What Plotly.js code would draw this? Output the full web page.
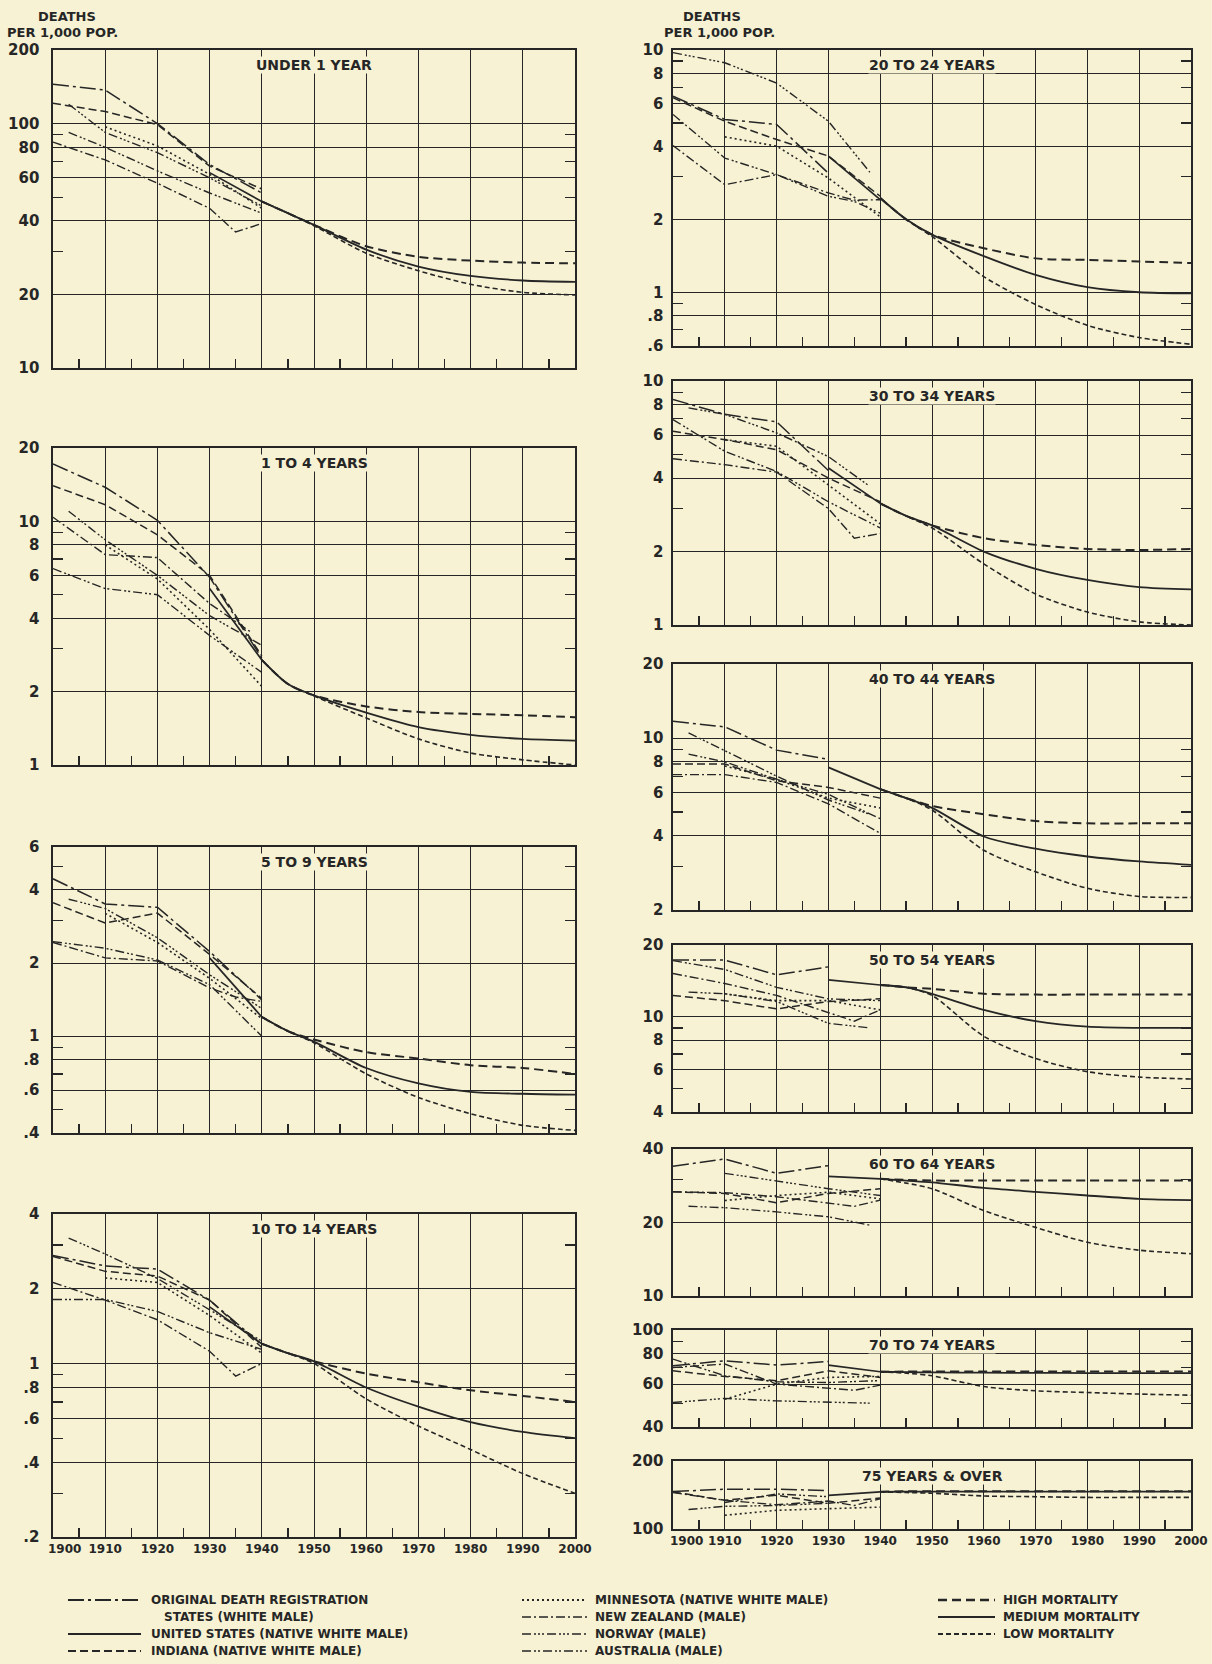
<!DOCTYPE html>
<html><head><meta charset="utf-8">
<script src="https://cdn.plot.ly/plotly-3.0.1.min.js"></script>
<style>html,body{margin:0;padding:0;background:#f7f2d3;} #chart{width:1212px;height:1664px;}</style>
</head><body><div id="chart"></div>
<script>
// ---------------- DATA ----------------
const HIST_YEARS = [1900, 1903, 1910, 1920, 1930, 1935, 1938, 1940];
const PROJ_YEARS = [1940, 1945, 1950, 1960, 1970, 1980, 1990, 2000];
const _ = null;

const SERIES_NAMES = ['ORIGINAL DEATH REGISTRATION STATES (WHITE MALE)', 'UNITED STATES (NATIVE WHITE MALE)',
  'INDIANA (NATIVE WHITE MALE)', 'MINNESOTA (NATIVE WHITE MALE)', 'NEW ZEALAND (MALE)', 'NORWAY (MALE)', 'AUSTRALIA (MALE)'];
const PROJ_NAMES = ['HIGH MORTALITY', 'MEDIUM MORTALITY', 'LOW MORTALITY'];

// Under 1 year
const u1_odrs = [145, _, 137, 100, 68, _, _, 52];
const u1_us   = [_, _, _, _, 63, _, _, 48];
const u1_ind  = [121, _, 112, 99, 67, _, _, 54];
const u1_min  = [_, _, 97, 81, 62, _, _, 45];
const u1_nz   = [84, _, 71, 57, 45, 36, _, 39];
const u1_nor  = [_, 120, 92, 76, 60, _, _, 46];
const u1_aus  = [_, 92, 80, 64, 52, _, _, 43];
const u1_high = [48, 43, 38.5, 31.5, 28.5, 27.5, 27, 26.8];
const u1_med  = [48, 43, 38.5, 30.5, 26, 23.8, 22.8, 22.5];
const u1_low  = [48, 43, 38.2, 29.5, 25, 22, 20.4, 19.9];
// 1 to 4 years
const a1_odrs = [17.2, _, 13.8, 10.1, 5.9, _, _, 2.75];
const a1_us   = [_, _, _, _, 5.3, _, _, 2.7];
const a1_ind  = [14.0, _, 11.7, 8.8, 6.0, 4.1, _, 2.8];
const a1_min  = [_, _, 8.0, 5.8, 3.6, _, _, 2.1];
const a1_nz   = [10.4, _, 7.3, 7.1, 4.6, _, 3.5, _];
const a1_nor  = [_, 11.0, 8.4, 6.0, 4.1, _, _, 3.1];
const a1_aus  = [6.4, _, 5.3, 5.0, 3.4, _, _, 2.4];
const a1_high = [2.7, 2.15, 1.93, 1.74, 1.65, 1.62, 1.6, 1.57];
const a1_med  = [2.7, 2.15, 1.93, 1.64, 1.43, 1.33, 1.28, 1.26];
const a1_low  = [2.7, 2.15, 1.92, 1.56, 1.28, 1.12, 1.05, 1.0];
// 5 to 9 years
const a5_odrs = [4.44, _, 3.5, 3.39, 2.23, _, _, 1.41];
const a5_us   = [_, _, _, _, 2.1, _, _, 1.2];
const a5_ind  = [3.54, _, 2.92, 3.21, 2.17, _, _, 1.43];
const a5_min  = [_, _, 3.2, 2.43, 1.73, _, _, 1.18];
const a5_nz   = [2.43, _, 2.1, 2.04, 1.58, 1.45, _, 1.39];
const a5_nor  = [_, 3.66, 3.35, 2.54, 1.79, _, _, 1.3];
const a5_aus  = [2.45, _, 2.3, 2.06, 1.63, _, _, 1.0];
const a5_high = [1.2, 1.05, 0.97, 0.86, 0.81, 0.76, 0.74, 0.70];
const a5_med  = [1.2, 1.05, 0.95, 0.74, 0.64, 0.59, 0.58, 0.575];
const a5_low  = [1.2, 1.05, 0.94, 0.70, 0.56, 0.48, 0.43, 0.41];
// 10 to 14 years
const a10_odrs = [2.72, _, 2.47, 2.4, 1.8, _, _, 1.19];
const a10_us   = [_, _, _, _, 1.69, _, _, 1.2];
const a10_ind  = [2.70, _, 2.35, 2.25, 1.8, _, _, 1.16];
const a10_min  = [_, _, 2.21, 2.12, 1.56, _, _, 1.1];
const a10_nz   = [2.12, _, 1.8, 1.5, 1.12, 0.89, _, 1.0];
const a10_nor  = [_, 3.2, 2.76, 2.2, 1.64, _, _, 1.23];
const a10_aus  = [1.81, _, 1.81, 1.62, 1.33, _, _, 1.14];
const a10_high = [1.2, 1.1, 1.02, 0.91, 0.84, 0.78, 0.74, 0.70];
const a10_med  = [1.2, 1.1, 1.02, 0.80, 0.67, 0.58, 0.53, 0.50];
const a10_low  = [1.2, 1.1, 1.0, 0.72, 0.56, 0.45, 0.36, 0.30];
// 20 to 24 years
const a20_odrs = [6.45, _, 5.17, 4.93, 3.1, _, _, _];
const a20_us   = [_, _, _, _, 3.65, _, _, 2.41];
const a20_ind  = [6.35, _, 5.08, 4.27, 3.65, _, _, 2.49];
const a20_min  = [_, _, 4.38, 4.01, 2.96, _, _, 2.05];
const a20_nz   = [4.03, _, 2.78, 3.06, 2.57, 2.4, _, 2.41];
const a20_nor  = [9.75, _, 8.86, 7.3, 5.08, _, 3.13, _];
const a20_aus  = [5.42, _, 3.58, 3.06, 2.49, 2.37, _, 2.12];
const a20_high = [2.45, 2.0, 1.73, 1.52, 1.38, 1.36, 1.34, 1.32];
const a20_med  = [2.45, 2.0, 1.73, 1.41, 1.18, 1.05, 1.0, 0.99];
const a20_low  = [2.45, 2.0, 1.70, 1.16, 0.89, 0.73, 0.65, 0.61];
// 30 to 34 years
const a30_odrs = [8.4, _, 7.3, 6.8, 4.3, _, _, _];
const a30_us   = [_, _, _, _, 4.4, _, _, 3.15];
const a30_ind  = [6.22, _, 5.75, 5.23, 4.0, _, _, 3.2];
const a30_min  = [_, _, 5.75, 5.4, 3.75, _, _, 2.6];
const a30_nz   = [4.8, _, 4.54, 4.23, 3.0, 2.27, _, 2.37];
const a30_nor  = [_, 7.76, 7.3, 6.13, 4.9, _, 3.7, _];
const a30_aus  = [6.95, _, 5.15, 4.26, 3.2, _, _, 2.5];
const a30_high = [3.15, 2.8, 2.56, 2.27, 2.13, 2.05, 2.03, 2.05];
const a30_med  = [3.15, 2.8, 2.56, 2.0, 1.7, 1.53, 1.43, 1.4];
const a30_low  = [3.15, 2.8, 2.5, 1.78, 1.34, 1.13, 1.03, 1.0];
// 40 to 44 years
const a40_odrs = [11.7, _, 11.1, 8.93, 8.2, _, _, _];
const a40_us   = [_, _, _, _, 7.6, _, _, 6.2];
const a40_ind  = [7.85, _, 7.85, 6.7, 6.3, _, _, 5.7];
const a40_min  = [_, _, 7.7, 6.8, 5.7, _, _, 5.2];
const a40_nz   = [7.1, _, 7.1, 6.6, 5.4, _, _, 4.1];
const a40_nor  = [_, 10.5, 8.9, 7.0, 5.6, _, 4.9, _];
const a40_aus  = [_, 8.6, 8.0, 6.8, 5.9, _, _, 4.7];
const a40_high = [6.2, 5.7, 5.3, 4.9, 4.6, 4.5, 4.5, 4.5];
const a40_med  = [6.2, 5.7, 5.2, 3.98, 3.55, 3.3, 3.15, 3.05];
const a40_low  = [6.2, 5.7, 5.1, 3.5, 2.86, 2.45, 2.27, 2.25];
// 50 to 54 years
const a50_odrs = [17.3, _, 17.3, 15.0, 16.2, _, _, _];
const a50_us   = [_, _, _, _, 14.3, _, _, 13.6];
const a50_ind  = [12.3, _, 11.7, 10.8, 11.6, _, _, 11.9];
const a50_min  = [_, _, 12.5, 11.7, 11.7, _, _, 10.7];
const a50_nz   = [15.2, _, 13.8, 12.3, 10.4, 9.6, _, 10.7];
const a50_nor  = [_, 12.7, 12.5, 11.6, 9.4, _, 9.0, _];
const a50_aus  = [17.2, _, 15.8, 13.3, 11.9, _, _, 11.7];
const a50_high = [13.6, 13.3, 13.1, 12.5, 12.4, 12.4, 12.4, 12.4];
const a50_med  = [13.6, 13.3, 12.5, 10.7, 9.6, 9.1, 9.0, 9.0];
const a50_low  = [13.6, 13.3, 12.3, 8.3, 6.7, 5.9, 5.6, 5.5];
// 60 to 64 years
const a60_odrs = [34.0, _, 36.4, 31.8, 34.2, _, _, _];
const a60_us   = [_, _, _, _, 30.9, _, _, 30.2];
const a60_ind  = [26.7, _, 26.3, 24.1, 26.3, _, _, 27.5];
const a60_min  = [_, _, 24.6, 25.8, 26.6, _, _, 25.0];
const a60_nz   = [26.7, _, 26.5, 25.5, 24.1, 23.3, _, 24.7];
const a60_nor  = [_, _, 31.8, 29.5, 27.5, _, _, 25.8];
const a60_aus  = [_, 23.3, 23.0, 22.1, 21.1, _, 19.5, _];
const a60_high = [30.2, 29.9, 29.7, 29.7, 29.7, 29.7, 29.7, 29.7];
const a60_med  = [30.2, 29.7, 29.2, 27.7, 26.7, 25.8, 25.0, 24.7];
const a60_low  = [30.2, 29.0, 27.5, 22.4, 19.1, 16.6, 15.4, 14.9];
// 70 to 74 years
const a70_odrs = [71.3, _, 74.8, 71.8, 74.3, _, _, _];
const a70_us   = [_, _, _, _, 71.8, _, _, 67.4];
const a70_ind  = [68.0, _, 64.5, 61.9, 68.0, _, _, 63.9];
const a70_min  = [_, _, 52.0, 60.0, 63.9, _, _, 64.5];
const a70_nz   = [70.2, _, 72.5, 60.0, 57.7, 56.6, _, 59.4];
const a70_nor  = [50.4, _, 52.4, 51.2, 50.4, _, 50.1, _];
const a70_aus  = [76.0, _, 64.9, 61.3, 60.9, _, _, 62.0];
const a70_high = [67.4, 67.5, 67.5, 67.5, 67.5, 67.5, 67.5, 67.5];
const a70_med  = [67.4, 67.2, 67.0, 66.8, 66.7, 66.6, 66.5, 66.5];
const a70_low  = [67.4, 66.5, 64.9, 58.6, 56.3, 55.4, 54.6, 54.0];
// 75 years & over
const a75_odrs = [146.5, _, 150, 150, 148, _, _, _];
const a75_us   = [_, _, _, _, 141, _, _, 146];
const a75_ind  = [146, _, 134, 141, 130, _, _, 137];
const a75_min  = [_, _, 115, 121, 123, _, _, 125];
const a75_nz   = [145, _, 134, 128, 133, 127, _, 136];
const a75_nor  = [_, 122, 126, 127, 130, _, _, _];
const a75_aus  = [_, _, 131, 143, 139, _, _, _];
const a75_high = [146, 147, 147, 147, 147, 147, 147, 147];
const a75_med  = [146, 146.5, 146.5, 146.5, 146.5, 146.5, 146.5, 146.5];
const a75_low  = [146, 145, 144, 140, 139, 138, 138, 138];

const PANEL_TITLES = ['UNDER 1 YEAR', '1 TO 4 YEARS', '5 TO 9 YEARS', '10 TO 14 YEARS',
  '20 TO 24 YEARS', '30 TO 34 YEARS', '40 TO 44 YEARS', '50 TO 54 YEARS', '60 TO 64 YEARS',
  '70 TO 74 YEARS', '75 YEARS & OVER'];
const HIST_SETS = [
  [u1_odrs, u1_us, u1_ind, u1_min, u1_nz, u1_nor, u1_aus],
  [a1_odrs, a1_us, a1_ind, a1_min, a1_nz, a1_nor, a1_aus],
  [a5_odrs, a5_us, a5_ind, a5_min, a5_nz, a5_nor, a5_aus],
  [a10_odrs, a10_us, a10_ind, a10_min, a10_nz, a10_nor, a10_aus],
  [a20_odrs, a20_us, a20_ind, a20_min, a20_nz, a20_nor, a20_aus],
  [a30_odrs, a30_us, a30_ind, a30_min, a30_nz, a30_nor, a30_aus],
  [a40_odrs, a40_us, a40_ind, a40_min, a40_nz, a40_nor, a40_aus],
  [a50_odrs, a50_us, a50_ind, a50_min, a50_nz, a50_nor, a50_aus],
  [a60_odrs, a60_us, a60_ind, a60_min, a60_nz, a60_nor, a60_aus],
  [a70_odrs, a70_us, a70_ind, a70_min, a70_nz, a70_nor, a70_aus],
  [a75_odrs, a75_us, a75_ind, a75_min, a75_nz, a75_nor, a75_aus]];
const PROJ_SETS = [
  [u1_high, u1_med, u1_low], [a1_high, a1_med, a1_low], [a5_high, a5_med, a5_low],
  [a10_high, a10_med, a10_low], [a20_high, a20_med, a20_low], [a30_high, a30_med, a30_low],
  [a40_high, a40_med, a40_low], [a50_high, a50_med, a50_low], [a60_high, a60_med, a60_low],
  [a70_high, a70_med, a70_low], [a75_high, a75_med, a75_low]];
// axis ranges and tick values (deaths per 1,000)
const Y_LO = [10, 1, 0.4, 0.2, 0.6, 1, 2, 4, 10, 40, 100];
const Y_HI = [200, 20, 6, 4, 10, 10, 20, 20, 40, 100, 200];
const Y_TICKS = [[10, 20, 40, 60, 80, 100, 200], [1, 2, 4, 6, 8, 10, 20], [0.4, 0.6, 0.8, 1, 2, 4, 6],
  [0.2, 0.4, 0.6, 0.8, 1, 2, 4], [0.6, 0.8, 1, 2, 4, 6, 8, 10], [1, 2, 4, 6, 8, 10], [2, 4, 6, 8, 10, 20],
  [4, 6, 8, 10, 20], [10, 20, 40], [40, 60, 80, 100], [100, 200]];
const Y_MINOR = [[30, 50, 70, 90], [3, 5, 7, 9], [0.5, 0.7, 0.9, 3, 5], [0.3, 0.5, 0.7, 0.9, 3],
  [0.7, 0.9, 3, 5, 7, 9], [3, 5, 7, 9], [3, 5, 7, 9], [5, 7, 9], [30], [50, 70, 90], []];
const FIRST_YEAR = 1900;

// ---------------- LAYOUT (pixels) ----------------
const W = 1212, H = 1664;
const BG = '#f7f2d3', INK = '#262626';
const FONT = 'DejaVu Sans, Liberation Sans, sans-serif';
const COL_X = [[53, 575], [673, 1191]];
const COL_STANDOFF = [9, 5];
const FIRST_LABEL_SHIFT = [11, 13];
const PANEL_COL = [0, 0, 0, 0, 1, 1, 1, 1, 1, 1, 1];
const PANEL_TOP = [50, 448, 847, 1214, 50, 381, 664, 945, 1149, 1330, 1461];
const PANEL_BOT = [368, 765, 1133, 1537, 346, 625, 910, 1112, 1296, 1427, 1529];
const X_LABELS = [false, false, false, true, false, false, false, false, false, false, true];

const HIST_STYLE = [
  {dash: '16px,4px,3px,4px', width: 1.5},
  {dash: 'solid', width: 1.7},
  {dash: '8px,4px', width: 1.5},
  {dash: '2px,3px', width: 1.6},
  {dash: '9px,3px,2px,3px', width: 1.4},
  {dash: '9px,3px,2px,2px,2px,2px,2px,3px', width: 1.4},
  {dash: '9px,3px,2px,2px,2px,3px', width: 1.4}];
const PROJ_STYLE = [{dash: '9px,5px', width: 2}, {dash: 'solid', width: 1.8}, {dash: '5px,3px', width: 1.6}];

function fmt(v) { return v < 1 ? String(v).replace(/^0/, '') : String(v); }

const traces = [];
const layout = {
  width: W, height: H, margin: {l: 0, r: 0, t: 0, b: 0},
  paper_bgcolor: BG, plot_bgcolor: BG, showlegend: false,
  font: {family: FONT, color: INK},
  annotations: [], shapes: []
};
const XFONT = {family: FONT, size: 12, weight: 'bold', color: INK};

PANEL_TITLES.forEach((title, i) => {
  const s = i === 0 ? '' : String(i + 1);
  const xa = 'x' + s, ya = 'y' + s;
  const col = PANEL_COL[i];
  const cx = COL_X[col];
  const alias = {};
  alias[String(FIRST_YEAR)] = ' ';
  layout['xaxis' + s] = {
    domain: [cx[0] / W, cx[1] / W], anchor: ya, range: [1900, 2000],
    tickmode: 'linear', tick0: 1900, dtick: 10, ticks: '', showgrid: true, gridcolor: INK, gridwidth: 1,
    showticklabels: X_LABELS[i], tickfont: XFONT, labelalias: alias,
    showline: true, mirror: true, linecolor: INK, linewidth: 1.6, zeroline: false, fixedrange: true,
    minor: {tick0: 1900, dtick: 5, ticks: 'inside', ticklen: 9, tickwidth: 1.3, tickcolor: INK, showgrid: false}
  };
  layout['yaxis' + s] = {
    domain: [1 - PANEL_BOT[i] / H, 1 - PANEL_TOP[i] / H], anchor: xa, type: 'log',
    range: [Math.log10(Y_LO[i]), Math.log10(Y_HI[i])],
    tickmode: 'array', tickvals: Y_TICKS[i], ticktext: Y_TICKS[i].map(fmt), ticks: '',
    showgrid: true, gridcolor: INK, gridwidth: 1, ticklabelstandoff: COL_STANDOFF[col],
    tickfont: {family: FONT, size: 15, weight: 'bold', color: INK},
    showline: true, mirror: 'allticks', linecolor: INK, linewidth: 1.6, zeroline: false, fixedrange: true,
    minor: {tickmode: 'array', tickvals: Y_MINOR[i], ticks: 'inside', ticklen: 10, tickwidth: 1.3, tickcolor: INK, showgrid: false}
  };
  if (X_LABELS[i]) {
    // first year label, nudged right (as in the original) to clear the bottom y label
    layout.annotations.push({xref: xa, yref: ya + ' domain', x: FIRST_YEAR, y: 0, yanchor: 'top',
      yshift: -3, xshift: FIRST_LABEL_SHIFT[col], text: String(FIRST_YEAR), showarrow: false, font: XFONT});
  }
  HIST_SETS[i].forEach((vals, k) => {
    traces.push({type: 'scatter', mode: 'lines', x: HIST_YEARS, y: vals, xaxis: xa, yaxis: ya,
      connectgaps: true, name: SERIES_NAMES[k], hoverinfo: 'skip',
      line: {color: INK, width: HIST_STYLE[k].width, dash: HIST_STYLE[k].dash}});
  });
  PROJ_SETS[i].forEach((vals, k) => {
    traces.push({type: 'scatter', mode: 'lines', x: PROJ_YEARS, y: vals, xaxis: xa, yaxis: ya,
      name: PROJ_NAMES[k], hoverinfo: 'skip',
      line: {color: INK, width: PROJ_STYLE[k].width, dash: PROJ_STYLE[k].dash, shape: 'spline', smoothing: 0.8}});
  });
  layout.annotations.push({
    xref: xa + ' domain', yref: ya + ' domain', x: 0.5, y: 1, yshift: -15, yanchor: 'middle',
    text: title, showarrow: false, bgcolor: BG, borderpad: 0,
    font: {family: FONT, size: 14, weight: 'bold', color: INK}
  });
});

// column headers
function paperText(px, py, text, anchor, size) {
  layout.annotations.push({xref: 'paper', yref: 'paper', x: px / W, y: 1 - py / H, text: text,
    showarrow: false, xanchor: anchor, yanchor: 'middle',
    font: {family: FONT, size: size, weight: 'bold', color: INK}});
}
paperText(67, 17, 'DEATHS', 'center', 13);
paperText(5, 33, 'PER 1,000 POP.', 'left', 13);
paperText(712, 17, 'DEATHS', 'center', 13);
paperText(662, 33, 'PER 1,000 POP.', 'left', 13);

// legend (manual, three columns)
function legendLine(x0, x1, py, style) {
  layout.shapes.push({type: 'line', xref: 'paper', yref: 'paper', x0: x0 / W, x1: x1 / W,
    y0: 1 - py / H, y1: 1 - py / H, line: {color: INK, width: style.width + 0.3, dash: style.dash}});
}
legendLine(68, 141, 1600, HIST_STYLE[0]);
paperText(149, 1600, 'ORIGINAL DEATH REGISTRATION', 'left', 12);
paperText(162, 1617, 'STATES (WHITE MALE)', 'left', 12);
legendLine(68, 141, 1634, HIST_STYLE[1]);
paperText(149, 1634, SERIES_NAMES[1], 'left', 12);
legendLine(68, 141, 1651, HIST_STYLE[2]);
paperText(149, 1651, SERIES_NAMES[2], 'left', 12);
[3, 4, 5, 6].forEach((k, j) => {
  const py = 1600 + j * 17;
  legendLine(522, 587, py, HIST_STYLE[k]);
  paperText(593, py, SERIES_NAMES[k], 'left', 12);
});
[0, 1, 2].forEach((k, j) => {
  const py = 1600 + j * 17;
  legendLine(938, 995, py, PROJ_STYLE[k]);
  paperText(1001, py, PROJ_NAMES[k], 'left', 12);
});

Plotly.newPlot('chart', traces, layout, {displayModeBar: false, staticPlot: true});
</script>
</body></html>
